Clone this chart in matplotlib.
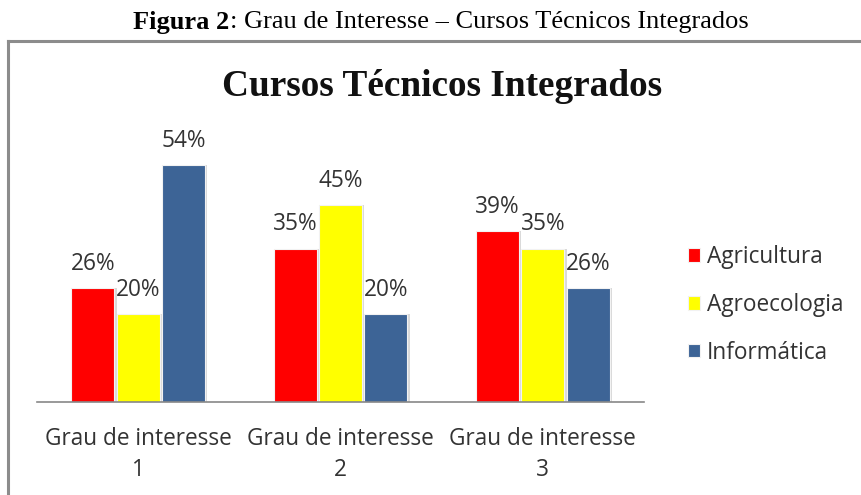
import matplotlib.pyplot as plt
from matplotlib.lines import Line2D
import numpy as np

# dados
categorias = ["Grau de interesse\n1", "Grau de interesse\n2", "Grau de interesse\n3"]
cursos = ["Agricultura", "Agroecologia", "Informática"]
agricultura = [26, 35, 39]
agroecologia = [20, 45, 35]
informatica = [54, 20, 26]
cores = ["#FF0000", "#FFFF00", "#3D6496"]

W, H = 862, 495
fig = plt.figure(figsize=(W / 100, H / 100), dpi=100)

# moldura cinza (cortada na direita e embaixo)
fig.add_artist(Line2D([8 / W, 1.0], [1 - 41 / H, 1 - 41 / H], color="#8c8c8c", lw=2.2))
fig.add_artist(Line2D([8 / W, 8 / W], [0.0, 1 - 41 / H], color="#8c8c8c", lw=2.2))

# legenda da figura (parte em negrito + parte normal)
r = fig.canvas.get_renderer()
t1 = fig.text(0, 1 - 22 / H, "Figura 2", family="Liberation Serif", weight="bold",
              fontsize=19, va="center", ha="left")
t2 = fig.text(0, 1 - 22 / H, ": Grau de Interesse – Cursos Técnicos Integrados",
              family="Liberation Serif", fontsize=19, va="center", ha="left")
w1 = t1.get_window_extent(r).width
w2 = t2.get_window_extent(r).width
x0 = 441 - (w1 + w2) / 2
t1.set_x(x0 / W)
t2.set_x((x0 + w1) / W)

# título do gráfico
fig.text(442 / W, 1 - 87 / H, "Cursos Técnicos Integrados", family="Liberation Serif",
         weight="bold", fontsize=26.8, ha="center", va="center", color="#111111")

ax = fig.add_axes([37 / W, 93 / H, 607 / W, 263 / H])
x = np.arange(len(categorias))
largura = 0.212
passo = 0.224
series = [agricultura, agroecologia, informatica]
sans = "Open Sans"
fs = 16.3
for i, (nome, vals) in enumerate(zip(cursos, series)):
    pos = x + (i - 1) * passo
    # sombra leve
    ax.bar(pos + 0.012, vals, largura, color="#d9d9d9", zorder=1)
    ax.bar(pos, vals, largura, color=cores[i], edgecolor="#f2f2f2", linewidth=0.8,
           label=nome, zorder=2)
    for px, v in zip(pos, vals):
        ax.text(px, v + 5.5, f"{v}%", ha="center", va="center", fontsize=fs,
                family=sans, color="#333333")

ax.set_xlim(-0.5, 2.5)
ax.set_ylim(0, 60)
ax.set_yticks([])
ax.set_xticks(x)
ax.set_xticklabels(categorias, family=sans, fontsize=fs, color="#333333",
                   linespacing=1.4)
ax.tick_params(axis="x", length=0, pad=18)
for s in ["top", "right", "left"]:
    ax.spines[s].set_visible(False)
ax.spines["bottom"].set_color("#888888")
ax.spines["bottom"].set_linewidth(1.2)

handles, labels = ax.get_legend_handles_labels()
handles = [h for h in handles if h.get_label() in cursos]
leg = fig.legend(handles, cursos, loc="upper left", bbox_to_anchor=(688 / W, 1 - 245 / H),
                 frameon=False, prop={"family": sans, "size": fs},
                 handlelength=0.55, handleheight=0.55, handletextpad=0.3,
                 labelspacing=1.05, borderaxespad=0, borderpad=0)
for txt in leg.get_texts():
    txt.set_color("#333333")

fig.savefig("out.png", dpi=100)
